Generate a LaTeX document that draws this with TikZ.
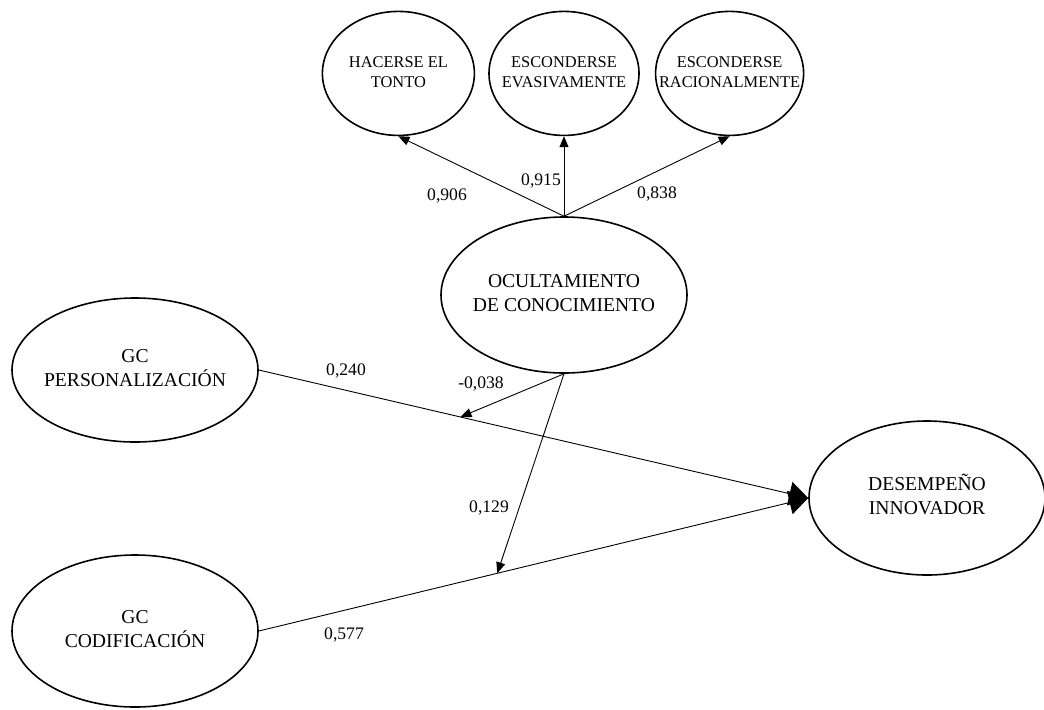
\documentclass[tikz,border=0pt]{standalone}
\usepackage{fontspec}
\setmainfont{Liberation Serif}
\usetikzlibrary{arrows.meta,positioning,shapes.geometric}
\newcommand{\elltext}[1]{\makebox[0pt]{\begin{tabular}{@{}c@{}}#1\end{tabular}}}

\begin{document}
\begin{tikzpicture}[
  x=0.5pt, y=-0.5pt,
  lat/.style={draw, ellipse, line width=0.8pt, inner sep=0pt, font=\fontsize{9.8}{12}\selectfont},
  dim/.style={lat, minimum width=75pt, minimum height=62pt, font=\fontsize{8.2}{10.3}\selectfont},
  lbl/.style={anchor=base, inner sep=0pt, font=\fontsize{8.8}{10}\selectfont},
  arr/.style={-{Triangle[length=5.5pt, width=4.5pt]}, line width=0.45pt},
  big/.style={-{Triangle[length=9.5pt, width=12pt]}, line width=0.45pt}]
  \useasboundingbox (0,0) rectangle (1044,709);
  \node[lat, minimum width=123pt, minimum height=78pt] (ocult) at (564,295) {\elltext{OCULTAMIENTO\\DE CONOCIMIENTO}};
  \node[dim, above=40pt of ocult] (evas) {\elltext{ESCONDERSE\\EVASIVAMENTE}};
  \node[dim, left=6.5pt of evas, minimum width=76pt] (hace) {\elltext{HACERSE EL\\TONTO}};
  \node[dim, right=7.5pt of evas, minimum width=74pt] (raci) {\elltext{ESCONDERSE\\RACIONALMENTE}};
  \node[lat, minimum width=123pt, minimum height=72pt] (pers) at (135,370) {\elltext{GC\\PERSONALIZACIÓN}};
  \node[lat, minimum width=123pt, minimum height=76pt] (codif) at (135,631) {\elltext{GC\\CODIFICACIÓN}};
  \node[lat, minimum width=118pt, minimum height=77pt] (desemp) at (927,498) {\elltext{DESEMPEÑO\\INNOVADOR}};
  % indicadores
  \draw[arr] (ocult.north) -- (hace.south);
  \draw[arr] (ocult.north) -- (evas.south);
  \draw[arr] (ocult.north) -- (raci.south);
  % relaciones estructurales
  \draw[big] (pers.east) -- (desemp.west);
  \draw[big] (codif.east) -- (desemp.west);
  \path (pers.east) -- (desemp.west) coordinate[pos=0.367] (m1);
  \path (codif.east) -- (desemp.west) coordinate[pos=0.434] (m2);
  \draw[arr] (ocult.south) -- (m1);
  \draw[arr] (ocult.south) -- (m2);
  % cargas
  \node[lbl] (l906) at (447,200) {0,906};
  \node[lbl] (l915) at (541,185) {0,915};
  \node[lbl] (l838) at (657,198) {0,838};
  \node[lbl] (l240) at (346,375) {0,240};
  \node[lbl] (l038) at (481,388) {-0,038};
  \node[lbl] (l129) at (489,512) {0,129};
  \node[lbl] (l577) at (344,639) {0,577};
\end{tikzpicture}
\end{document}
